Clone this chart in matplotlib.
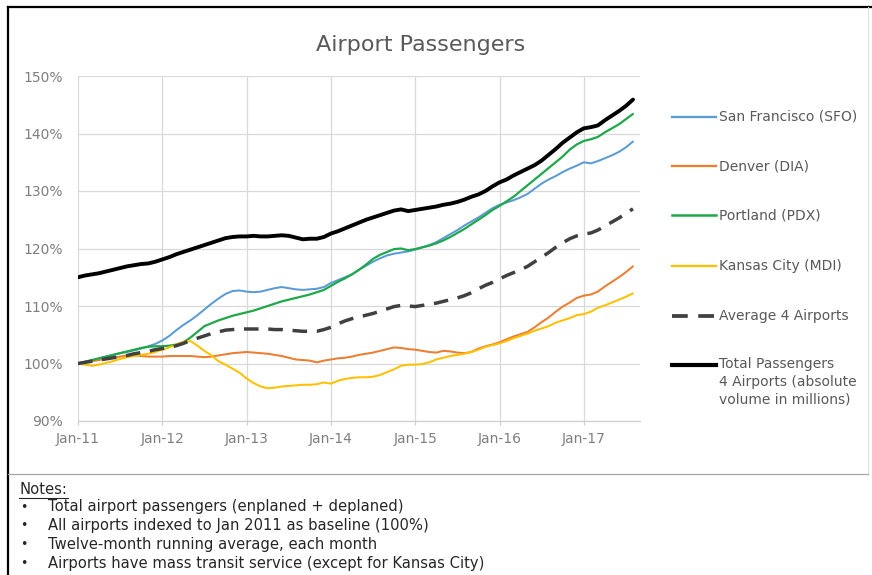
import numpy as np
import matplotlib
matplotlib.use("Agg")
import matplotlib.pyplot as plt
from matplotlib.lines import Line2D

plt.rcParams['font.family'] = ['DejaVu Sans']

# ---------------- data (12-month running average, index Jan 2011 = 100%) ----------------
year_labels = ["Jan-11", "Jan-12", "Jan-13", "Jan-14", "Jan-15", "Jan-16", "Jan-17"]

sfo = [100.0, 100.3, 100.6, 100.9, 101.2, 101.5, 101.8, 102.0, 102.3, 102.6, 103.0, 103.4,
       104.0, 104.8, 105.8, 106.7, 107.5, 108.4, 109.4, 110.4, 111.3, 112.1, 112.6, 112.7,
       112.5, 112.4, 112.5, 112.8, 113.1, 113.3, 113.1, 112.9, 112.8, 112.9, 113.0, 113.3,
       114.0, 114.5, 115.0, 115.5, 116.3, 117.0, 117.7, 118.3, 118.8, 119.1, 119.3, 119.5,
       119.8, 120.2, 120.6, 121.1, 121.8, 122.5, 123.2, 124.0, 124.7, 125.4, 126.2, 127.0,
       127.6, 128.0, 128.4, 128.9, 129.5, 130.4, 131.3, 132.0, 132.6, 133.3, 133.9, 134.4,
       135.0, 134.8, 135.2, 135.7, 136.2, 136.8, 137.6, 138.6]

dia = [100.0, 100.2, 100.4, 100.6, 100.8, 101.0, 101.2, 101.4, 101.4, 101.3, 101.2, 101.2,
       101.2, 101.3, 101.3, 101.3, 101.3, 101.2, 101.1, 101.2, 101.4, 101.6, 101.8, 101.9,
       102.0, 101.9, 101.8, 101.7, 101.5, 101.3, 101.0, 100.7, 100.6, 100.5, 100.2, 100.5,
       100.7, 100.9, 101.0, 101.2, 101.5, 101.7, 101.9, 102.2, 102.5, 102.8, 102.7, 102.5,
       102.4, 102.2, 102.0, 101.9, 102.2, 102.1, 101.9, 101.8, 102.0, 102.6, 103.0, 103.3,
       103.7, 104.2, 104.7, 105.1, 105.5, 106.3, 107.2, 108.0, 109.0, 109.9, 110.6, 111.4,
       111.8, 112.0, 112.5, 113.4, 114.2, 115.0, 115.9, 116.9]

pdx = [100.0, 100.3, 100.6, 100.9, 101.2, 101.5, 101.8, 102.1, 102.4, 102.7, 102.9, 103.0,
       103.0, 103.1, 103.3, 103.7, 104.5, 105.5, 106.5, 107.0, 107.5, 107.9, 108.3, 108.6,
       108.9, 109.2, 109.6, 110.0, 110.4, 110.8, 111.1, 111.4, 111.7, 112.0, 112.4, 112.8,
       113.5, 114.2, 114.8, 115.5, 116.3, 117.2, 118.2, 118.9, 119.4, 119.9, 120.0, 119.7,
       119.9, 120.2, 120.5, 120.9, 121.4, 122.0, 122.7, 123.4, 124.2, 125.0, 125.8, 126.7,
       127.4, 128.2, 129.0, 130.0, 131.0, 132.0, 133.0, 134.0, 135.0, 136.0, 137.2, 138.1,
       138.7, 139.0, 139.4, 140.2, 140.9, 141.6, 142.5, 143.4]

mci = [100.0, 99.8, 99.6, 99.8, 100.1, 100.4, 100.8, 101.1, 101.3, 101.5, 101.7, 102.0,
       102.4, 102.8, 103.3, 103.8, 103.9, 103.1, 102.2, 101.4, 100.4, 99.8, 99.1, 98.4,
       97.4, 96.6, 96.0, 95.7, 95.8, 96.0, 96.1, 96.2, 96.3, 96.3, 96.4, 96.7,
       96.5, 97.0, 97.3, 97.5, 97.6, 97.6, 97.7, 98.0, 98.5, 99.0, 99.6, 99.8,
       99.8, 99.9, 100.2, 100.7, 101.0, 101.3, 101.5, 101.7, 102.0, 102.4, 102.9, 103.2,
       103.5, 103.9, 104.4, 104.8, 105.2, 105.7, 106.1, 106.5, 107.1, 107.5, 107.9, 108.4,
       108.6, 109.0, 109.7, 110.1, 110.6, 111.1, 111.6, 112.2]

avg4 = [100.0, 100.2, 100.4, 100.6, 100.8, 101.0, 101.2, 101.4, 101.7, 101.9, 102.1, 102.4,
        102.6, 102.8, 103.1, 103.5, 104.0, 104.4, 104.8, 105.2, 105.5, 105.8, 105.9, 106.0,
        106.0, 106.0, 106.0, 106.0, 105.9, 105.9, 105.8, 105.7, 105.6, 105.6, 105.6, 105.9,
        106.3, 106.9, 107.4, 107.8, 108.1, 108.4, 108.7, 109.1, 109.5, 109.9, 110.1, 110.0,
        109.9, 110.1, 110.3, 110.5, 110.8, 111.1, 111.4, 111.8, 112.3, 113.0, 113.6, 114.1,
        114.7, 115.3, 115.8, 116.3, 116.9, 117.7, 118.5, 119.3, 120.2, 121.0, 121.7, 122.2,
        122.5, 122.7, 123.2, 123.9, 124.6, 125.3, 126.1, 126.9]

total = [115.0, 115.3, 115.5, 115.7, 116.0, 116.3, 116.6, 116.9, 117.1, 117.3, 117.4, 117.7,
         118.1, 118.5, 119.0, 119.4, 119.8, 120.2, 120.6, 121.0, 121.4, 121.8, 122.0, 122.1,
         122.1, 122.2, 122.1, 122.1, 122.2, 122.3, 122.2, 121.9, 121.6, 121.7, 121.7, 122.0,
         122.6, 123.0, 123.5, 124.0, 124.5, 125.0, 125.4, 125.8, 126.2, 126.6, 126.8, 126.5,
         126.7, 126.9, 127.1, 127.3, 127.6, 127.8, 128.1, 128.5, 129.0, 129.4, 130.0, 130.8,
         131.5, 132.0, 132.7, 133.3, 133.9, 134.5, 135.3, 136.3, 137.3, 138.4, 139.3, 140.2,
         140.9, 141.1, 141.4, 142.3, 143.1, 143.9, 144.8, 145.9]

series_names = ["San Francisco (SFO)", "Denver (DIA)", "Portland (PDX)",
                "Kansas City (MDI)", "Average 4 Airports",
                "Total Passengers\n4 Airports (absolute\nvolume in millions)"]
y_ticks = [90, 100, 110, 120, 130, 140, 150]
y_tick_labels = ["90%", "100%", "110%", "120%", "130%", "140%", "150%"]

notes_title = "Notes:"
notes = ["Total airport passengers (enplaned + deplaned)",
         "All airports indexed to Jan 2011 as baseline (100%)",
         "Twelve-month running average, each month",
         "Airports have mass transit service (except for Kansas City)"]

# ---------------- styling ----------------
W, H = 872, 575
colors = ["#5B9BD5", "#ED7D31", "#1FA84A", "#FFC000", "#404040", "#000000"]
widths = [1.45, 1.45, 1.6, 1.45, 2.5, 2.8]
styles = ["-", "-", "-", "-", (0, (4.2, 2.8)), "-"]

fig = plt.figure(figsize=(W / 100, H / 100), dpi=100)
fig.patch.set_facecolor("white")

def fx(px):
    return px / W

def fy(py):
    return 1 - py / H

ax = fig.add_axes([fx(78), fy(421), (640 - 78) / W, (421 - 76) / H])
months = np.arange(len(sfo))
all_series = [sfo, dia, pdx, mci, avg4, total]
for vals, c, lw, ls in zip(all_series, colors, widths, styles):
    ax.plot(months, vals, color=c, lw=lw, linestyle=ls, solid_capstyle="round",
            dash_capstyle="butt")

ax.set_xlim(0, 80)
ax.set_ylim(90, 150)
ax.set_yticks(y_ticks)
ax.set_yticklabels(y_tick_labels)
ax.set_xticks(np.arange(len(year_labels)) * 12)
ax.set_xticklabels(year_labels)
ax.grid(True, color="#D9D9D9", lw=0.9)
ax.set_axisbelow(True)
for s in ["top", "right", "left"]:
    ax.spines[s].set_visible(False)
ax.spines["bottom"].set_color("#D0D0D0")
ax.spines["bottom"].set_linewidth(0.9)
ax.tick_params(axis="y", length=0, pad=11, labelsize=10, labelcolor="#7F7F7F")
ax.tick_params(axis="x", length=3, width=0.9, color="#D0D0D0", pad=5,
               labelsize=10, labelcolor="#7F7F7F")

# title
fig.text(fx(421), fy(45), "Airport Passengers", ha="center", va="center",
         fontsize=16, color="#595959")

# legend (manual, Excel-like: handle aligned with first text line)
leg_y = [117, 166, 215, 266, 316, 365]
for name, c, lw, ls, yy in zip(series_names, colors, widths, styles, leg_y):
    fig.add_artist(Line2D([fx(672), fx(716)], [fy(yy), fy(yy)], color=c, lw=lw + 0.2,
                          linestyle=ls, transform=fig.transFigure))
    if "\n" in name:
        fig.text(fx(719), fy(yy - 8), name, ha="left", va="top", fontsize=10,
                 color="#595959", linespacing=1.35)
    else:
        fig.text(fx(719), fy(yy), name, ha="left", va="center", fontsize=10,
                 color="#595959")

# borders
fig.add_artist(Line2D([fx(7.5), fx(7.5)], [fy(6.5), fy(575)], color="black", lw=1.6))
fig.add_artist(Line2D([fx(7.5), fx(872)], [fy(6.5), fy(6.5)], color="black", lw=1.6))
fig.add_artist(Line2D([fx(868), fx(868)], [fy(7), fy(474)], color="#E0E0E0", lw=0.8))
fig.add_artist(Line2D([fx(8), fx(868)], [fy(474), fy(474)], color="#A6A6A6", lw=0.9))

# notes
fig.text(fx(19), fy(490), notes_title, ha="left", va="center", fontsize=10.6, color="#262626")
fig.add_artist(Line2D([fx(19), fx(68)], [fy(498), fy(498)], color="#262626", lw=0.8))
for i, n in enumerate(notes):
    yy = 507 + i * 18.7
    fig.text(fx(20), fy(yy), "\u2022", ha="left", va="center", fontsize=9, color="#262626")
    fig.text(fx(48), fy(yy), n, ha="left", va="center", fontsize=10.6, color="#262626")

fig.savefig("out.png", dpi=100)
